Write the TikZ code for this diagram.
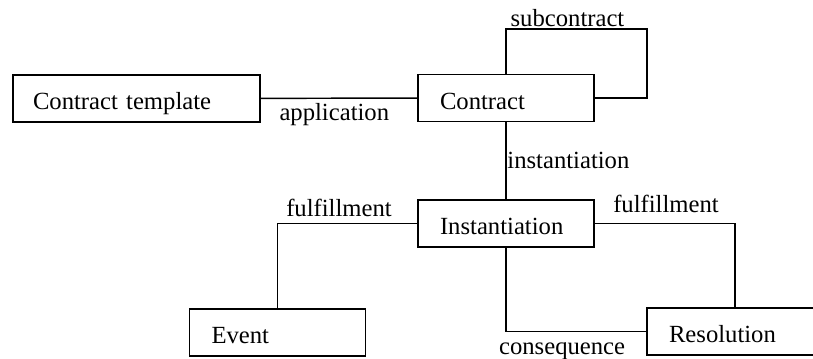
\documentclass[tikz,border=0pt]{standalone}
\usepackage{fontspec}
\setmainfont{Liberation Serif}
\tikzstyle{entity}=[draw, line width=1.1pt, minimum height=35.25pt, text width=99pt, text height=17pt, text depth=0pt, inner xsep=16.5pt, align=left, font=\fontsize{18.5}{22}\selectfont]
\tikzstyle{wideentity}=[entity, text width=155.25pt, inner xsep=15pt]
\tikzstyle{relation}=[line width=1.1pt]
\tikzstyle{rolelabel}=[inner sep=0pt, font=\fontsize{18.5}{22}\selectfont]

\begin{document}
\begin{tikzpicture}[x=0.75pt, y=-0.75pt]
      \useasboundingbox (0,0) rectangle (813,359);
      \clip (0,0) rectangle (813,359);
      \node[wideentity] (template) at (136.5,98.5) {Contract template};
      \node[entity] (contract) at (506,98) {Contract};
      \node[entity] (inst) at (506,223.5) {Instantiation};
      \node[entity] (event) at (277.5,332.5) {Event};
      \node[entity] (resolution) at (735,331.5) {Resolution};
      \coordinate (loopcorner) at (647,29);
      \draw[relation] (template) -- node[rolelabel, pos=0.47, below=3pt] {application} (contract);
      \draw[relation] (contract.north) |- node[rolelabel, pos=0.718, above=1.5pt] {subcontract} (loopcorner) |- (contract.east);
      \draw[relation] (contract) -- node[rolelabel, right=0.5pt] {instantiation} (inst);
      \draw[relation] (inst.west) -| node[rolelabel, pos=0.28, above=4.5pt] {fulfillment} (event.north);
      \draw[relation] (inst.east) -| node[rolelabel, pos=0.254, above=7.5pt] {fulfillment} (resolution.north);
      \draw[relation] (inst.south) |- node[rolelabel, pos=0.7, below=7.5pt] {consequence} (resolution.west);
    \end{tikzpicture}
\end{document}
